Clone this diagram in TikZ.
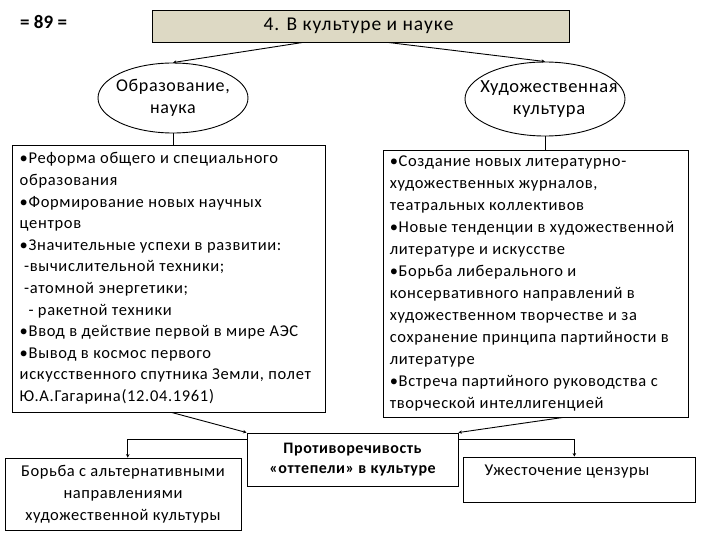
\documentclass[tikz,border=0pt]{standalone}
\usepackage{fontspec}
\setmainfont{Carlito}
\newfontfamily\spfont[LetterSpace=3.5]{Carlito}
\newfontfamily\bxfont[LetterSpace=4]{Carlito}
\newfontfamily\ttlfont[LetterSpace=5]{Carlito}
\usetikzlibrary{shapes.geometric,arrows.meta,calc}
\definecolor{titlefill}{RGB}{221,217,196}
\begin{document}
\begin{tikzpicture}[x=1pt,y=-1pt,
  box/.style={draw=black, line width=0.9pt, inner sep=0pt},
  txt/.style={inner sep=0pt, align=left, font=\bxfont\fontsize{16.5}{21.6}\selectfont},
  conn/.style={draw=black, line width=0.9pt, -{Stealth[length=3.5pt,width=3.5pt]}},
  plain/.style={draw=black, line width=0.9pt}]
\useasboundingbox[fill=white] (0,0) rectangle (720,540);

\node[anchor=west, inner sep=0pt, font=\bfseries\fontsize{19}{20}\selectfont] (pg) at (20,22) {= 89 =};

\node[box, fill=titlefill, minimum width=417, minimum height=32] (title) at (360.5,26) {};
\node[inner sep=0pt, font=\ttlfont\fontsize{19.5}{20}\selectfont] (titletxt) at ($(title)+(-2,0)$) {4. В культуре и науке};

\node[box, ellipse, minimum width=150, minimum height=70] (eL) at (173,98) {};
\node[inner sep=0pt, align=center, font=\spfont\fontsize{18}{22}\selectfont] (eLt) at (eL) {Образование,\\наука};
\node[box, ellipse, minimum width=160, minimum height=74] (eR) at (545,99) {};
\node[inner sep=0pt, align=center, font=\spfont\fontsize{18.5}{22}\selectfont] (eRt) at ($(eR)+(4,0)$) {Художественная\\культура};

\node[box, minimum width=313, minimum height=267] (bL) at (168.5,278.5) {};
\node[txt, anchor=west] (bLt) at ($(bL.west)+(8,0)$) {•Реформа общего и специального\\образования\\•Формирование новых научных\\центров\\•Значительные успехи в развитии:\\\ -вычислительной техники;\\\ -атомной энергетики;\\\ \ - ракетной техники\\•Ввод в действие первой в мире АЭС\\•Вывод в космос первого\\искусственного спутника Земли, полет\\Ю.А.Гагарина(12.04.1961)};

\node[box, minimum width=305, minimum height=267] (bR) at (535.5,283.5) {};
\node[txt, anchor=west, font=\bxfont\fontsize{16.5}{22}\selectfont] (bRt) at ($(bR.west)+(7,0)$) {•Создание новых литературно-\\художественных журналов,\\театральных коллективов\\•Новые тенденции в художественной\\литературе и искусстве\\•Борьба либерального и\\консервативного направлений в\\художественном творчестве и за\\сохранение принципа партийности в\\литературе\\•Встреча партийного руководства с\\творческой интеллигенцией};

\node[box, minimum width=211, minimum height=53] (cM) at (352.5,459.5) {};
\node[inner sep=0pt, align=center, font=\spfont\bfseries\fontsize{16}{20}\selectfont] (cMt) at (cM) {Противоречивость\\«оттепели» в культуре};

\node[box, minimum width=236, minimum height=72] (bBL) at (123,494) {};
\node[inner sep=0pt, align=center, font=\spfont\fontsize{16.5}{22}\selectfont] (bBLt) at (bBL) {Борьба с альтернативными\\направлениями\\художественной культуры};

\node[box, minimum width=232, minimum height=45] (bBR) at (579,479.5) {};
\node[inner sep=0pt, font=\spfont\fontsize{16.5}{20}\selectfont] (bBRt) at ($(bBR.north)+(-12,15)$) {Ужесточение цензуры};

\draw[conn] ($(title.south west)!0.362!(title.south east)$) -- (eL.north);
\draw[conn] ($(title.south west)!0.566!(title.south east)$) -- (eR.north);
\draw[plain] (eL.south) -- (eL.south |- bL.north);
\draw[plain] (eR.south) -- (eR.south |- bR.north);
\draw[conn] ($(bL.south west)!0.51!(bL.south east)$) -- (cM.north west);
\draw[conn] ($(bR.south west)!0.59!(bR.south east)$) -- (cM.north east);
\draw[conn] ($(cM.north west)!0.13!(cM.south west)$) -| ($(bBL.north west)!0.52!(bBL.north east)$);
\draw[conn] ($(cM.north east)!0.13!(cM.south east)$) -| ($(bBR.north west)!0.48!(bBR.north east)$);
\end{tikzpicture}
\end{document}
